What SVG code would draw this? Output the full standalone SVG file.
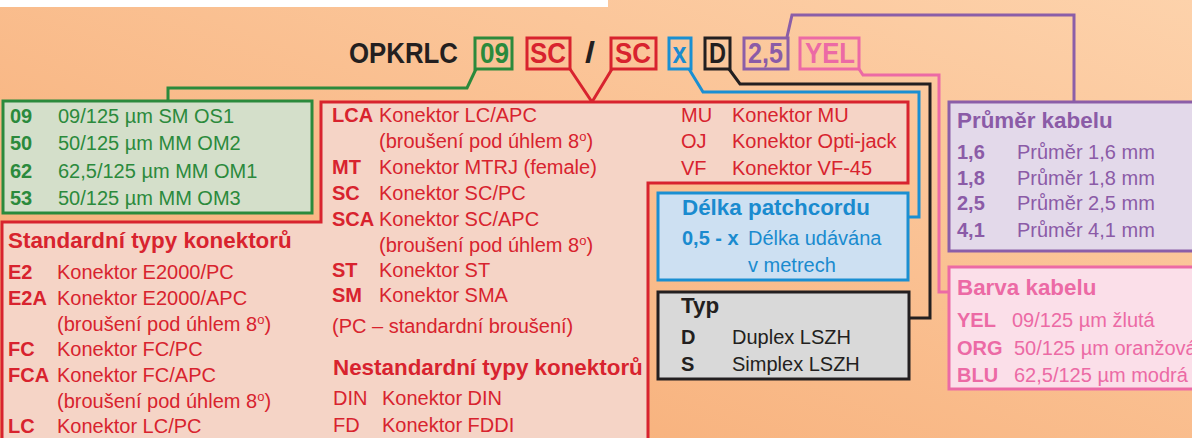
<svg xmlns="http://www.w3.org/2000/svg" width="1192" height="438" viewBox="0 0 1192 438">
<defs>
<linearGradient id="bg" x1="1" y1="0" x2="0" y2="1">
<stop offset="0" stop-color="#fdd2ab"/>
<stop offset="1" stop-color="#f6a86f"/>
</linearGradient>
</defs>
<style>
text{font-family:"Liberation Sans",Arial,Helvetica,sans-serif}
.t{font-size:20px}
.b{font-weight:bold}
.h{font-size:22.4px;font-weight:bold}
.hd{font-size:29px;font-weight:bold}
.g{fill:#2b8a3c}.r{fill:#d8232e}.bl{fill:#1a8bcf}.k{fill:#231f20}.p{fill:#8b5ba7}.pk{fill:#ec6aa5}
.ln{fill:none;stroke-width:3}
.sg{stroke:#2b8a3c}.sr{stroke:#d8232e}.sb{stroke:#1a8fd2}.sk{stroke:#231f20}.sp{stroke:#8b5ea8}.spk{stroke:#ec6aa5}
.hb{fill:none;stroke-width:3}
</style>
<rect x="0" y="0" width="1192" height="438" fill="url(#bg)"/>
<rect x="0" y="0" width="608" height="7" fill="#ffffff"/>

<g id="header">
<text class="hd k" x="349" y="63" textLength="109" lengthAdjust="spacingAndGlyphs">OPKRLC</text>
<rect class="hb sg" x="475" y="38" width="37" height="31"/>
<text class="hd g" x="480" y="63" textLength="29" lengthAdjust="spacingAndGlyphs">09</text>
<rect class="hb sr" x="527" y="38" width="43" height="31"/>
<text class="hd r" x="530" y="63" textLength="36" lengthAdjust="spacingAndGlyphs">SC</text>
<text class="hd k" x="585" y="63" textLength="10" lengthAdjust="spacingAndGlyphs">/</text>
<rect class="hb sr" x="611" y="38" width="45" height="31"/>
<text class="hd r" x="615" y="63" textLength="36" lengthAdjust="spacingAndGlyphs">SC</text>
<rect class="hb sb" x="669" y="38" width="22" height="31"/>
<text class="hd bl" x="672.5" y="63" textLength="14" lengthAdjust="spacingAndGlyphs">x</text>
<rect class="hb sk" x="705" y="38" width="25" height="31"/>
<text class="hd k" x="709" y="63" textLength="17" lengthAdjust="spacingAndGlyphs">D</text>
<rect class="hb sp" x="744" y="38" width="44" height="31"/>
<text class="hd p" x="748" y="63" textLength="35" lengthAdjust="spacingAndGlyphs">2,5</text>
<rect class="hb spk" x="800" y="38" width="59" height="31"/>
<text class="hd pk" x="805" y="63" textLength="50" lengthAdjust="spacingAndGlyphs">YEL</text>
</g>

<g id="connectors">
<polyline class="ln sg" points="476,69 467,88 168,88 168,101"/>
<polyline class="ln sr" points="570,69 592,102 612,69"/>
<polyline class="ln sb" points="689,69 703,92 919,92 919,217 908,217"/>
<polyline class="ln sk" points="729,69 740,84 930,84 930,318 909,318"/>
<polyline class="ln spk" points="859,69 863,75 939,75 939,292 949,292"/>
<polyline class="ln sp" points="787,37 792,15 1074,15 1074,102"/>
</g>

<g id="red-box">
<path d="M2,446 V222 H321 V102 H908 V183 H648 V446 Z" fill="#f5d4c6" stroke="#d8232e" stroke-width="3"/>
<text class="h r" x="8" y="248">Standardní typy konektorů</text>
<text class="t b r" x="8" y="279">E2</text><text class="t r" x="57" y="279">Konektor E2000/PC</text>
<text class="t b r" x="8" y="305">E2A</text><text class="t r" x="57" y="305">Konektor E2000/APC</text>
<text class="t r" x="57" y="330.5">(broušení pod úhlem 8<tspan font-size="13" dy="-7">o</tspan><tspan dy="7">)</tspan></text>
<text class="t b r" x="8" y="356">FC</text><text class="t r" x="57" y="356">Konektor FC/PC</text>
<text class="t b r" x="8" y="382">FCA</text><text class="t r" x="57" y="382">Konektor FC/APC</text>
<text class="t r" x="57" y="407.5">(broušení pod úhlem 8<tspan font-size="13" dy="-7">o</tspan><tspan dy="7">)</tspan></text>
<text class="t b r" x="8" y="433">LC</text><text class="t r" x="57" y="433">Konektor LC/PC</text>

<text class="t b r" x="332" y="122">LCA</text><text class="t r" x="379" y="122">Konektor LC/APC</text>
<text class="t r" x="379" y="148">(broušení pod úhlem 8<tspan font-size="13" dy="-7">o</tspan><tspan dy="7">)</tspan></text>
<text class="t b r" x="332" y="174">MT</text><text class="t r" x="379" y="174">Konektor MTRJ (female)</text>
<text class="t b r" x="332" y="200">SC</text><text class="t r" x="379" y="200">Konektor SC/PC</text>
<text class="t b r" x="332" y="226">SCA</text><text class="t r" x="379" y="226">Konektor SC/APC</text>
<text class="t r" x="379" y="252">(broušení pod úhlem 8<tspan font-size="13" dy="-7">o</tspan><tspan dy="7">)</tspan></text>
<text class="t b r" x="332" y="277">ST</text><text class="t r" x="379" y="277">Konektor ST</text>
<text class="t b r" x="332" y="302">SM</text><text class="t r" x="379" y="302">Konektor SMA</text>
<text class="t r" x="332" y="333">(PC – standardní broušení)</text>
<text class="h r" x="333" y="375">Nestandardní typy konektorů</text>
<text class="t r" x="333" y="405">DIN</text><text class="t r" x="382" y="405">Konektor DIN</text>
<text class="t r" x="333" y="432">FD</text><text class="t r" x="382" y="432">Konektor FDDI</text>

<text class="t r" x="681" y="122">MU</text><text class="t r" x="732" y="122">Konektor MU</text>
<text class="t r" x="681" y="148">OJ</text><text class="t r" x="732" y="148">Konektor Opti-jack</text>
<text class="t r" x="681" y="175">VF</text><text class="t r" x="732" y="175">Konektor VF-45</text>
</g>

<g id="green-box">
<rect x="3" y="101" width="309" height="112" fill="#d4dfca" stroke="#2b8a3c" stroke-width="3"/>
<text class="t b g" x="10" y="123">09</text><text class="t g" x="58" y="123">09/125 µm SM OS1</text>
<text class="t b g" x="10" y="150">50</text><text class="t g" x="58" y="150">50/125 µm MM OM2</text>
<text class="t b g" x="10" y="177.5">62</text><text class="t g" x="58" y="177.5">62,5/125 µm MM OM1</text>
<text class="t b g" x="10" y="205">53</text><text class="t g" x="58" y="205">50/125 µm MM OM3</text>
</g>

<g id="blue-box">
<rect x="658" y="193" width="250" height="87" fill="#cde0f2" stroke="#1a8fd2" stroke-width="3"/>
<text class="h bl" x="682" y="215">Délka patchcordu</text>
<text class="t b bl" x="682" y="245">0,5 - x</text><text class="t bl" x="748" y="245">Délka udávána</text>
<text class="t bl" x="748" y="272">v metrech</text>
</g>

<g id="typ-box">
<rect x="658" y="292" width="251" height="87" fill="#d9d9d9" stroke="#231f20" stroke-width="3"/>
<text class="h k" x="681" y="313">Typ</text>
<text class="t b k" x="681" y="344">D</text><text class="t k" x="732" y="344">Duplex LSZH</text>
<text class="t b k" x="681" y="371">S</text><text class="t k" x="732" y="371">Simplex LSZH</text>
</g>

<g id="purple-box">
<rect x="949" y="102" width="260" height="149" fill="#e3d9ea" stroke="#8b5ea8" stroke-width="3"/>
<text class="h p" x="957" y="128">Průměr kabelu</text>
<text class="t b p" x="957" y="159">1,6</text><text class="t p" x="1017" y="159">Průměr 1,6 mm</text>
<text class="t b p" x="957" y="185">1,8</text><text class="t p" x="1017" y="185">Průměr 1,8 mm</text>
<text class="t b p" x="957" y="210">2,5</text><text class="t p" x="1017" y="210">Průměr 2,5 mm</text>
<text class="t b p" x="957" y="237">4,1</text><text class="t p" x="1017" y="237">Průměr 4,1 mm</text>
</g>

<g id="pink-box">
<rect x="949" y="267" width="260" height="122" fill="#fbdfe9" stroke="#ec6aa5" stroke-width="3"/>
<text class="h pk" x="957" y="295">Barva kabelu</text>
<text class="t b pk" x="957" y="327">YEL</text><text class="t pk" x="1012" y="327">09/125 µm žlutá</text>
<text class="t b pk" x="957" y="355">ORG</text><text class="t pk" x="1014" y="355">50/125 µm oranžová</text>
<text class="t b pk" x="957" y="382">BLU</text><text class="t pk" x="1014" y="382">62,5/125 µm modrá</text>
</g>
</svg>
